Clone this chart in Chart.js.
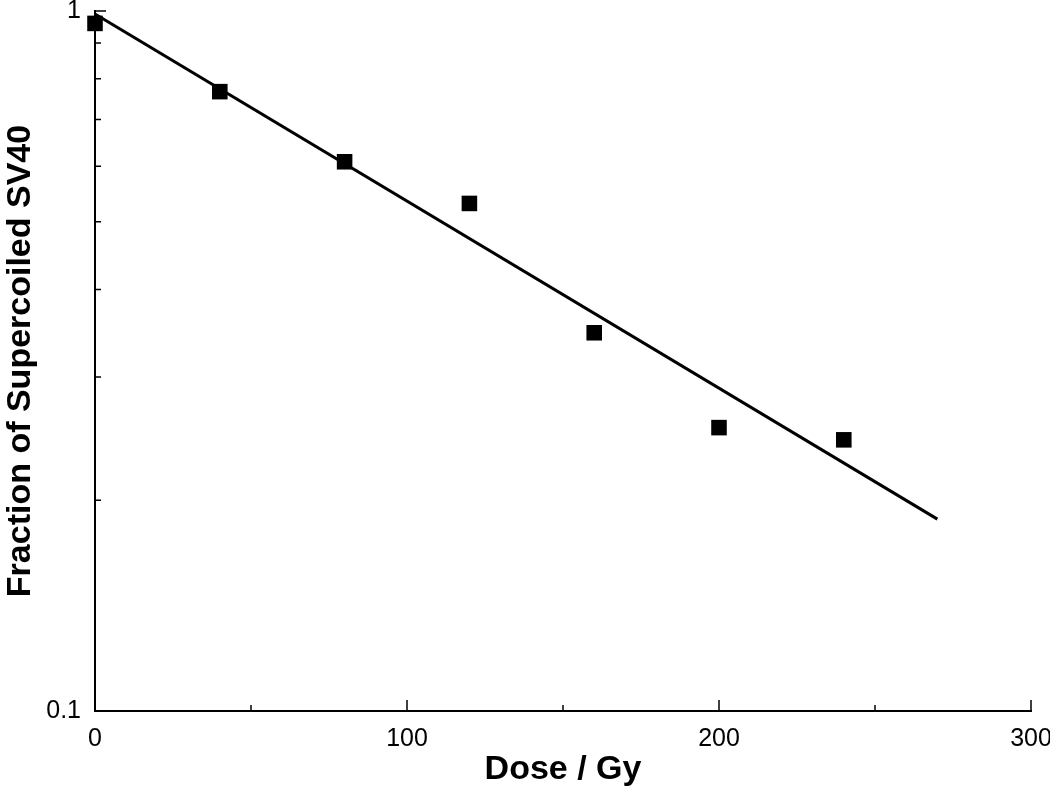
<!DOCTYPE html>
<html>
<head>
<meta charset="utf-8">
<script src="https://cdn.jsdelivr.net/npm/chart.js@4/dist/chart.umd.min.js"></script>
<style>
  body { margin: 0; background: #fff; }
  #wrap { width: 1050px; height: 790px; }
</style>
</head>
<body>
<div id="wrap"><canvas id="mycanvas"></canvas></div>
<script>
// measured points
var dose = [0, 40, 80, 120, 160, 200, 240];
var fraction = [0.96, 0.767, 0.609, 0.531, 0.347, 0.254, 0.244];

// fitted line ends
var fitDose = [0, 270];
var fitFraction = [0.99, 0.188];

var xMajor = [0, 100, 200, 300];
var xMinor = [50, 150, 250];
var yMinor = [0.2, 0.3, 0.4, 0.5, 0.6, 0.7, 0.8, 0.9];
var yMajor = [0.1, 1];

var pts = [];
for (var i in dose) {
    pts.push({x: dose[i], y: fraction[i]});
}
var fit = [];
for (var j in fitDose) {
    fit.push({x: fitDose[j], y: fitFraction[j]});
}

// ticks pointing into the plot, like the original
var innerTicks = {
    id: 'innerTicks',
    afterDraw: function(chart) {
        var ctx = chart.ctx;
        var xs = chart.scales.x, ys = chart.scales.y;
        var ca = chart.chartArea;
        ctx.save();
        ctx.strokeStyle = '#000';
        ctx.lineWidth = 1.5;
        ctx.beginPath();
        xMajor.forEach(function(v) {
            var px = xs.getPixelForValue(v);
            ctx.moveTo(px, ca.bottom);
            ctx.lineTo(px, ca.bottom - 11);
        });
        xMinor.forEach(function(v) {
            var px = xs.getPixelForValue(v);
            ctx.moveTo(px, ca.bottom);
            ctx.lineTo(px, ca.bottom - 6);
        });
        yMinor.forEach(function(v) {
            var py = ys.getPixelForValue(v);
            ctx.moveTo(ca.left, py);
            ctx.lineTo(ca.left + 6, py);
        });
        yMajor.forEach(function(v) {
            var py = ys.getPixelForValue(v);
            ctx.moveTo(ca.left, py);
            ctx.lineTo(ca.left + 11, py);
        });
        ctx.stroke();
        ctx.restore();
    }
};

var ctx = document.getElementById('mycanvas');

var chart = new Chart(ctx, {
    type: 'scatter',
    data: {
        datasets: [{
            label: 'fit',
            data: fit,
            showLine: true,
            borderColor: '#000',
            borderWidth: 3,
            pointRadius: 0,
            fill: false,
            clip: false
        }, {
            label: 'SV40',
            data: pts,
            pointStyle: 'rect',
            pointRadius: 11,
            backgroundColor: '#000',
            borderColor: '#000',
            borderWidth: 0,
            clip: false
        }]
    },
    options: {
        responsive: true,
        maintainAspectRatio: false,
        animation: false,
        layout: { autoPadding: false, padding: { top: 11, right: 19, left: 0, bottom: 0 } },
        plugins: {
            legend: { display: false },
            tooltip: { enabled: false }
        },
        scales: {
            x: {
                type: 'linear',
                min: 0,
                max: 300,
                grid: { display: false, drawTicks: false },
                border: { color: '#000', width: 2 },
                ticks: {
                    stepSize: 100,
                    padding: 13,
                    color: '#000',
                    font: { family: 'Liberation Sans, Arial', size: 25 }
                },
                title: {
                    display: true,
                    text: 'Dose / Gy',
                    color: '#000',
                    padding: { top: 2, bottom: 0 },
                    font: { family: 'Liberation Sans, Arial', size: 34, weight: 'bold' }
                },
                afterFit: function(scale) {
                    scale.height = 79;
                    scale.paddingLeft = 0;
                    scale.paddingRight = 0;
                }
            },
            y: {
                type: 'logarithmic',
                min: 0.1,
                max: 1,
                grid: { display: false, drawTicks: false },
                border: { color: '#000', width: 2 },
                ticks: {
                    padding: 14,
                    color: '#000',
                    font: { family: 'Liberation Sans, Arial', size: 25 },
                    callback: function(v) {
                        if (Math.abs(v - 1) < 1e-9) return '1';
                        if (Math.abs(v - 0.1) < 1e-9) return '0.1';
                        return '';
                    }
                },
                title: {
                    display: true,
                    text: 'Fraction of Supercoiled SV40',
                    color: '#000',
                    padding: { top: 0, bottom: 2 },
                    font: { family: 'Liberation Sans, Arial', size: 34, weight: 'bold' }
                },
                afterFit: function(scale) {
                    scale.width = 95;
                    scale.paddingTop = 0;
                    scale.paddingBottom = 0;
                }
            }
        }
    },
    plugins: [innerTicks]
});
</script>
</body>
</html>
